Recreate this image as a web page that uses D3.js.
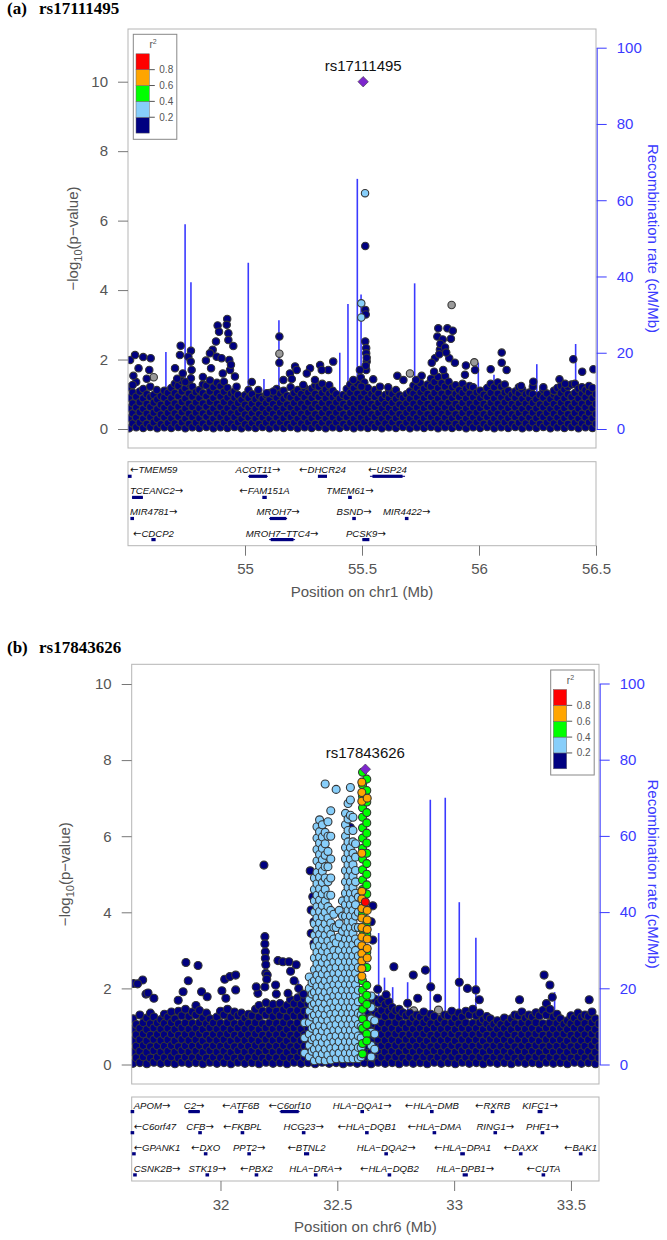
<!DOCTYPE html>
<html>
<head>
<meta charset="utf-8">
<script src="https://cdn.jsdelivr.net/npm/d3@7"></script>
<style>
  body { margin: 0; background: #fff; }
  svg { display: block; font-family: "Liberation Sans", Arial, sans-serif; }
</style>
</head>
<body>
<svg id="chart" width="667" height="1240"></svg>
<script>
// LD colour key (r^2 bins)
const r2Breaks = [0.2, 0.4, 0.6, 0.8];
const r2Labels = ["0.2", "0.4", "0.6", "0.8"];
const r2Colors = ["#000080", "#87CEFA", "#00FF00", "#FFA500", "#FF0000"];
const yTicksLeft = [0, 2, 4, 6, 8, 10];
const yTicksRight = [0, 20, 40, 60, 80, 100];

// ---------- panel (a) ----------
const leadA = { name: "rs17111495", pos: 55.505, logp: 10.0 };
const xDomainA = [54.5, 56.5];
const xTicksA = [55, 55.5, 56, 56.5];

// dense background of low-LD SNPs, one column per position: [pos, [-log10 p ...]]
const baseA = [
  [54.505,[0.02,0.31,0.6,0.9,1.2]], [54.52,[0.16,0.45,0.74,1.05]], [54.535,[0.05,0.33,0.62,0.93,1.35]],
  [54.55,[0.18,0.48,0.77,1.08]], [54.565,[0.03,0.3,0.58,0.88,1.15]], [54.58,[0.15,0.44,0.72,1.0]],
  [54.595,[0.06,0.34,0.63,0.92,1.22]], [54.61,[0.19,0.47,0.76,0.98]], [54.625,[0.02,0.29,0.57,0.85]],
  [54.64,[0.14,0.42,0.7,0.95]], [54.655,[0.05,0.33,0.61,0.9,1.1]], [54.67,[0.17,0.46,0.75,1.04]],
  [54.685,[0.03,0.31,0.6,0.89,1.18]], [54.7,[0.16,0.45,0.74,1.03,1.3]], [54.715,[0.06,0.35,0.64,0.94,1.24]],
  [54.73,[0.19,0.48,0.78,1.08,1.38]], [54.745,[0.02,0.3,0.59,0.88,1.17]], [54.76,[0.15,0.44,0.73,1.02,1.3]],
  [54.775,[0.05,0.34,0.63,0.93,1.22]], [54.79,[0.18,0.47,0.76,1.06]], [54.805,[0.03,0.31,0.6,0.89,1.12]],
  [54.82,[0.16,0.45,0.74,1.03,1.28]], [54.835,[0.06,0.35,0.64,0.94,1.25]], [54.85,[0.19,0.48,0.78,1.08,1.4]],
  [54.865,[0.02,0.3,0.59,0.89,1.2]], [54.88,[0.15,0.44,0.73,1.03,1.33]], [54.895,[0.05,0.34,0.63,0.93,1.23]],
  [54.91,[0.18,0.47,0.77,1.07,1.36]], [54.925,[0.03,0.31,0.6,0.9,1.18]], [54.94,[0.16,0.45,0.74,1.02]],
  [54.955,[0.06,0.34,0.62,0.9,1.08]], [54.97,[0.19,0.47,0.75,0.98]], [54.985,[0.02,0.29,0.57,0.84]],
  [55.0,[0.14,0.42,0.7,0.97]], [55.015,[0.05,0.33,0.61,0.89,1.12]], [55.03,[0.17,0.45,0.73,1.0]],
  [55.045,[0.03,0.3,0.58,0.86]], [55.06,[0.15,0.43,0.71,0.95]], [55.075,[0.06,0.33,0.6,0.87]],
  [55.09,[0.18,0.46,0.74,0.98]], [55.105,[0.02,0.3,0.58,0.86,1.04]], [55.12,[0.16,0.44,0.72,0.99]],
  [55.135,[0.05,0.33,0.61,0.9,1.15]], [55.15,[0.19,0.47,0.75,1.02]], [55.165,[0.03,0.31,0.59,0.87,1.1]],
  [55.18,[0.15,0.43,0.71,0.96]], [55.195,[0.06,0.34,0.62,0.91,1.2]], [55.21,[0.18,0.46,0.75,1.04]],
  [55.225,[0.02,0.3,0.59,0.88,1.12]], [55.24,[0.16,0.44,0.73,1.01]], [55.255,[0.05,0.33,0.62,0.91,1.18]],
  [55.27,[0.19,0.47,0.76,1.05]], [55.285,[0.03,0.31,0.6,0.89,1.16]], [55.3,[0.15,0.43,0.72,1.01,1.25]],
  [55.315,[0.06,0.34,0.63,0.92,1.22]], [55.33,[0.18,0.46,0.75,1.04,1.3]], [55.345,[0.02,0.3,0.59,0.88,1.14]],
  [55.36,[0.16,0.44,0.73,1.02,1.26]], [55.375,[0.05,0.33,0.62,0.91,1.1]], [55.39,[0.19,0.47,0.76,1.0]],
  [55.405,[0.03,0.31,0.6,0.88]], [55.42,[0.15,0.43,0.72,0.98]], [55.435,[0.06,0.34,0.63,0.92,1.15]],
  [55.45,[0.18,0.46,0.75,1.04,1.28]], [55.465,[0.02,0.3,0.59,0.88,1.17]], [55.48,[0.16,0.44,0.73,1.02,1.3]],
  [55.495,[0.05,0.33,0.62,0.91,1.2,1.48]], [55.51,[0.19,0.47,0.76,1.05,1.34]], [55.525,[0.03,0.31,0.6,0.89,1.18]],
  [55.54,[0.15,0.43,0.72,1.01]], [55.555,[0.06,0.34,0.63,0.92,1.12]], [55.57,[0.18,0.46,0.75,1.02]],
  [55.585,[0.02,0.3,0.59,0.87]], [55.6,[0.16,0.44,0.72,0.98]], [55.615,[0.05,0.33,0.61,0.89,1.06]],
  [55.63,[0.19,0.47,0.75,1.0]], [55.645,[0.03,0.31,0.59,0.87,1.12]], [55.66,[0.15,0.43,0.71,0.97]],
  [55.675,[0.06,0.34,0.62,0.9]], [55.69,[0.18,0.46,0.74,1.0]], [55.705,[0.02,0.3,0.58,0.87,1.08]],
  [55.72,[0.16,0.44,0.73,1.02,1.25]], [55.735,[0.05,0.33,0.62,0.91,1.18]], [55.75,[0.19,0.47,0.76,1.05,1.32]],
  [55.765,[0.03,0.31,0.6,0.89,1.16]], [55.78,[0.15,0.43,0.72,1.01,1.28]], [55.795,[0.06,0.34,0.63,0.92,1.22,1.45]],
  [55.81,[0.18,0.46,0.75,1.04,1.35]], [55.825,[0.02,0.3,0.59,0.88,1.18,1.5]], [55.84,[0.16,0.44,0.73,1.02,1.32]],
  [55.855,[0.05,0.33,0.62,0.91,1.22,1.52]], [55.87,[0.19,0.47,0.76,1.05,1.36]], [55.885,[0.03,0.31,0.6,0.89,1.2]],
  [55.9,[0.15,0.43,0.72,1.01,1.26]], [55.915,[0.06,0.34,0.63,0.92,1.12]], [55.93,[0.18,0.46,0.75,1.04,1.3]],
  [55.945,[0.02,0.3,0.59,0.88,1.16]], [55.96,[0.16,0.44,0.73,1.02,1.24]], [55.975,[0.05,0.33,0.62,0.91,1.2]],
  [55.99,[0.19,0.47,0.76,1.05]], [56.005,[0.03,0.31,0.6,0.89,1.1]], [56.02,[0.15,0.43,0.72,0.99]],
  [56.035,[0.06,0.34,0.63,0.92,1.18]], [56.05,[0.18,0.46,0.75,1.04,1.3]], [56.065,[0.02,0.3,0.59,0.88,1.2]],
  [56.08,[0.16,0.44,0.73,1.02,1.34]], [56.095,[0.05,0.33,0.62,0.91,1.22]], [56.11,[0.19,0.47,0.76,1.05,1.28]],
  [56.125,[0.03,0.31,0.6,0.89,1.1]], [56.14,[0.15,0.43,0.72,0.99]], [56.155,[0.06,0.34,0.62,0.9,1.08]],
  [56.17,[0.18,0.46,0.74,1.02,1.2]], [56.185,[0.02,0.3,0.58,0.87,1.14]], [56.2,[0.16,0.44,0.73,1.0]],
  [56.215,[0.05,0.33,0.61,0.88,1.05]], [56.23,[0.19,0.47,0.75,1.0,1.22]], [56.245,[0.03,0.31,0.59,0.86]],
  [56.26,[0.15,0.43,0.71,0.98]], [56.275,[0.06,0.34,0.62,0.9,1.12]], [56.29,[0.18,0.46,0.74,1.02]],
  [56.305,[0.02,0.3,0.58,0.86]], [56.32,[0.16,0.44,0.72,0.99,1.1]], [56.335,[0.05,0.33,0.61,0.89,1.18]],
  [56.35,[0.19,0.47,0.75,1.03,1.24]], [56.365,[0.03,0.31,0.6,0.88,1.14]], [56.38,[0.15,0.43,0.72,1.0,1.22]],
  [56.395,[0.06,0.34,0.63,0.92,1.28]], [56.41,[0.18,0.46,0.75,1.04,1.3]], [56.425,[0.02,0.3,0.59,0.88,1.16]],
  [56.44,[0.16,0.44,0.73,1.02,1.2]], [56.455,[0.05,0.33,0.62,0.91,1.12]], [56.47,[0.19,0.47,0.76,1.05,1.24]],
  [56.485,[0.03,0.31,0.6,0.89,1.18]], [56.5,[0.15,0.43,0.72,1.0]]
];

// individual SNPs: [pos, -log10 p, r2] (r2 null = no LD information)
const snpsA = [
  [55.513,6.79,0.3], [55.514,5.27,0.1], [55.497,3.62,0.3], [55.497,3.21,0.3], [55.514,3.43,0.1],
  [55.516,3.3,0.1], [55.514,2.52,0.1], [55.518,2.33,0.1], [55.518,2.18,0.1], [55.52,1.94,0.1],
  [55.518,1.7,0.1], [55.497,1.22,0.1], [55.52,2.05,0.1], [55.516,1.82,0.1],
  [54.509,1.99,0.1], [54.53,2.13,0.1], [54.565,2.07,0.1], [54.597,2.04,0.1], [54.523,1.53,0.1],
  [54.591,1.7,0.1], [54.623,1.12,0.1], [54.52,1.27,0.1], [54.545,1.75,0.1], [54.58,1.45,0.1],
  [54.725,2.4,0.1], [54.722,2.13,0.1], [54.769,2.25,0.1], [54.758,2.08,0.1], [54.701,1.75,0.1],
  [54.734,1.6,0.1], [54.768,1.94,0.1], [54.772,1.7,0.1], [54.769,1.46,0.1], [54.71,1.45,0.1],
  [54.745,1.35,0.1],
  [54.924,3.17,0.1], [54.922,3.0,0.1], [54.883,2.98,0.1], [54.889,2.8,0.1], [54.929,2.76,0.1],
  [54.876,2.52,0.1], [54.929,2.56,0.1], [54.95,2.39,0.1], [54.862,2.28,0.1], [54.85,2.18,0.1],
  [54.833,1.97,0.1], [54.879,2.08,0.1], [54.9,2.04,0.1], [54.933,1.99,0.1], [54.936,1.7,0.1],
  [54.957,1.51,0.1], [54.964,1.22,0.1], [54.855,1.75,0.1], [54.905,1.6,0.1], [54.82,1.5,0.1],
  [54.94,1.85,0.1],
  [55.029,1.35,0.1], [55.057,1.12,0.1], [55.121,1.08,0.1], [55.214,1.8,0.1], [55.192,1.6,0.1],
  [55.278,1.75,0.1], [55.321,1.84,0.1], [55.377,1.94,0.1], [55.356,1.7,0.1], [55.299,1.41,0.1],
  [55.249,1.27,0.1], [55.164,1.41,0.1], [55.093,1.03,0.1], [55.463,1.41,0.1], [55.491,1.7,0.1],
  [55.264,1.6,0.1], [55.328,1.7,0.1], [55.221,1.7,0.1], [55.2,1.44,0.1],
  [55.147,2.66,0.1], [55.147,1.91,0.1],
  [55.826,2.9,0.1], [55.865,2.9,0.1], [55.888,2.83,0.1], [55.822,2.66,0.1], [55.845,2.58,0.1],
  [55.833,2.28,0.1], [55.812,2.04,0.1], [55.873,2.04,0.1], [55.897,1.91,0.1], [55.798,1.91,0.1],
  [55.808,1.65,0.1], [55.847,1.7,0.1], [55.944,1.83,0.1], [55.983,1.7,0.1], [55.94,1.56,0.1],
  [55.835,2.45,0.1], [55.855,2.35,0.1], [55.83,2.15,0.1], [55.86,2.2,0.1], [55.88,2.6,0.1],
  [56.097,2.2,0.1], [56.097,1.91,0.1], [56.118,1.7,0.1], [56.05,1.72,0.1], [56.403,2.01,0.1],
  [56.441,1.65,0.1], [56.489,1.72,0.1], [56.344,1.43,0.1], [56.368,1.3,0.1], [56.18,1.24,0.1],
  [56.232,1.36,0.1], [56.275,1.2,0.1], [55.755,1.53,0.1], [55.731,1.41,0.1], [55.651,1.53,0.1],
  [55.677,1.41,0.1], [55.548,1.43,0.1], [55.577,1.22,0.1], [55.612,1.2,0.1],
  [55.147,2.17,null], [55.883,3.57,null], [55.705,1.6,null], [55.98,1.92,null], [56.21,0.93,null],
  [54.61,1.49,null]
];

// recombination rate peaks: [pos, cM/Mb]
const recombA = [
  [54.662,20.2], [54.744,53.7], [54.769,38.5], [55.014,43.6], [55.081,13.1], [55.145,28.5],
  [55.405,20.0], [55.44,32.8], [55.48,65.6], [55.496,35.3], [55.725,38.2], [55.997,17.4],
  [56.064,14.2], [56.247,17.0], [56.413,22.3]
];

// genes: [name, start, end, strand, row]
const genesA = [
  ["TMEM59",54.503,54.512,"-",0], ["ACOT11",55.013,55.098,"+",0], ["DHCR24",55.312,55.35,"-",0],
  ["USP24",55.534,55.684,"-",0], ["TCEANC2",54.517,54.564,"+",1], ["FAM151A",55.077,55.09,"-",1],
  ["TMEM61",55.444,55.453,"+",1], ["MIR4781",54.517,54.519,"+",2], ["MROH7",55.103,55.18,"+",2],
  ["BSND",55.462,55.47,"+",2], ["MIR4422",55.69,55.692,"+",2], ["CDCP2",54.603,54.615,"-",3],
  ["MROH7−TTC4",55.103,55.214,"+",3], ["PCSK9",55.503,55.53,"+",3]
];

// ---------- panel (b) ----------
const leadB = { name: "rs17843626", pos: 32.62, logp: 7.76 };
const xDomainB = [31.62, 33.62];
const xTicksB = [32, 32.5, 33, 33.5];

const baseB = [
  [31.625,[0.03,0.33,0.63,0.93,1.2]], [31.64,[0.18,0.48,0.78,1.05]], [31.655,[0.05,0.35,0.65,0.95,1.3]],
  [31.67,[0.2,0.5,0.8,1.1]], [31.685,[0.02,0.32,0.62,0.92,1.22]], [31.7,[0.17,0.47,0.77,1.07,1.35]],
  [31.715,[0.06,0.36,0.66,0.96,1.25]], [31.73,[0.19,0.49,0.79,1.09]], [31.745,[0.03,0.33,0.63,0.93,1.18]],
  [31.76,[0.18,0.48,0.78,1.08,1.32]], [31.775,[0.05,0.35,0.65,0.95,1.24]], [31.79,[0.2,0.5,0.8,1.1,1.38]],
  [31.805,[0.02,0.32,0.62,0.92,1.2]], [31.82,[0.17,0.47,0.77,1.07,1.4]], [31.835,[0.06,0.36,0.66,0.96,1.28]],
  [31.85,[0.19,0.49,0.79,1.09,1.45]], [31.865,[0.03,0.33,0.63,0.93,1.26]], [31.88,[0.18,0.48,0.78,1.08,1.38]],
  [31.895,[0.05,0.35,0.65,0.95,1.3,1.55]], [31.91,[0.2,0.5,0.8,1.1,1.42]], [31.925,[0.02,0.32,0.62,0.92,1.22]],
  [31.94,[0.17,0.47,0.77,1.07,1.35]], [31.955,[0.06,0.36,0.66,0.96,1.2]], [31.97,[0.19,0.49,0.79,1.09]],
  [31.985,[0.03,0.33,0.63,0.93,1.25]], [32.0,[0.18,0.48,0.78,1.08,1.4]], [32.015,[0.05,0.35,0.65,0.95,1.3]],
  [32.03,[0.2,0.5,0.8,1.1,1.45]], [32.045,[0.02,0.32,0.62,0.92,1.24]], [32.06,[0.17,0.47,0.77,1.07,1.38]],
  [32.075,[0.06,0.36,0.66,0.96,1.28]], [32.09,[0.19,0.49,0.79,1.09,1.35]], [32.105,[0.03,0.33,0.63,0.93,1.22]],
  [32.12,[0.18,0.48,0.78,1.08,1.32]], [32.135,[0.05,0.35,0.65,0.95,1.28]], [32.15,[0.2,0.5,0.8,1.1,1.45]],
  [32.165,[0.02,0.32,0.62,0.92,1.25,1.55]], [32.18,[0.17,0.47,0.77,1.07,1.4]], [32.195,[0.06,0.36,0.66,0.96,1.3,1.62]],
  [32.21,[0.19,0.49,0.79,1.09,1.42]], [32.225,[0.03,0.33,0.63,0.93,1.26,1.58]], [32.24,[0.18,0.48,0.78,1.08,1.4]],
  [32.255,[0.05,0.35,0.65,0.95,1.28,1.6]], [32.27,[0.2,0.5,0.8,1.1,1.44]], [32.285,[0.02,0.32,0.62,0.92,1.24,1.55]],
  [32.3,[0.17,0.47,0.77,1.07,1.4,1.7]], [32.315,[0.06,0.36,0.66,0.96,1.28,1.6]], [32.33,[0.19,0.49,0.79,1.09,1.42,1.75]],
  [32.345,[0.03,0.33,0.63,0.93,1.26,1.58]], [32.36,[0.18,0.48,0.78,1.08,1.4,1.72]], [32.375,[0.05,0.35,0.65,0.95,1.28,1.6]],
  [32.39,[0.2,0.5,0.8,1.1,1.45]], [32.405,[0.02,0.32,0.62,0.92,1.25]], [32.42,[0.17,0.47,0.77,1.07]],
  [32.435,[0.06,0.36,0.66,0.96,1.3]], [32.45,[0.19,0.49,0.79,1.09]], [32.465,[0.03,0.33,0.63,0.93,1.25]],
  [32.48,[0.18,0.48,0.78,1.08]], [32.495,[0.05,0.35,0.65,0.95,1.3]], [32.51,[0.2,0.5,0.8,1.1]],
  [32.525,[0.02,0.32,0.62,0.92,1.25]], [32.54,[0.17,0.47,0.77,1.07]], [32.555,[0.06,0.36,0.66,0.96,1.3]],
  [32.57,[0.19,0.49,0.79,1.09]], [32.585,[0.03,0.33,0.63,0.93,1.25]], [32.6,[0.18,0.48,0.78,1.08]],
  [32.615,[0.05,0.35,0.65,0.95,1.3]], [32.63,[0.2,0.5,0.8,1.1,1.4]], [32.645,[0.02,0.32,0.62,0.92,1.25,1.6]],
  [32.66,[0.17,0.47,0.77,1.07,1.4,1.72]], [32.675,[0.06,0.36,0.66,0.96,1.3,1.62]], [32.69,[0.19,0.49,0.79,1.09,1.42,1.7]],
  [32.705,[0.03,0.33,0.63,0.93,1.26,1.58]], [32.72,[0.18,0.48,0.78,1.08,1.4,1.65]], [32.735,[0.05,0.35,0.65,0.95,1.28,1.5]],
  [32.75,[0.2,0.5,0.8,1.1,1.42]], [32.765,[0.02,0.32,0.62,0.92,1.24,1.45]], [32.78,[0.17,0.47,0.77,1.07,1.36]],
  [32.795,[0.06,0.36,0.66,0.96,1.28]], [32.81,[0.19,0.49,0.79,1.09,1.35]], [32.825,[0.03,0.33,0.63,0.93,1.22]],
  [32.84,[0.18,0.48,0.78,1.08,1.3]], [32.855,[0.05,0.35,0.65,0.95,1.25]], [32.87,[0.2,0.5,0.8,1.1,1.38]],
  [32.885,[0.02,0.32,0.62,0.92,1.2]], [32.9,[0.17,0.47,0.77,1.07,1.32]], [32.915,[0.06,0.36,0.66,0.96,1.26]],
  [32.93,[0.19,0.49,0.79,1.09]], [32.945,[0.03,0.33,0.63,0.93,1.2]], [32.96,[0.18,0.48,0.78,1.08,1.3]],
  [32.975,[0.05,0.35,0.65,0.95,1.28]], [32.99,[0.2,0.5,0.8,1.1,1.4]], [33.005,[0.02,0.32,0.62,0.92,1.22]],
  [33.02,[0.17,0.47,0.77,1.07,1.35]], [33.035,[0.06,0.36,0.66,0.96,1.25]], [33.05,[0.19,0.49,0.79,1.09,1.4]],
  [33.065,[0.03,0.33,0.63,0.93,1.3]], [33.08,[0.18,0.48,0.78,1.08,1.45]], [33.095,[0.05,0.35,0.65,0.95,1.28]],
  [33.11,[0.2,0.5,0.8,1.1,1.35]], [33.125,[0.02,0.32,0.62,0.92,1.18]], [33.14,[0.17,0.47,0.77,1.07,1.26]],
  [33.155,[0.06,0.36,0.66,0.96,1.2]], [33.17,[0.19,0.49,0.79,1.06]], [33.185,[0.03,0.33,0.63,0.93,1.15]],
  [33.2,[0.18,0.48,0.78,1.05]], [33.215,[0.05,0.35,0.65,0.95,1.22]], [33.23,[0.2,0.5,0.8,1.08]],
  [33.245,[0.02,0.32,0.62,0.92,1.2]], [33.26,[0.17,0.47,0.77,1.07,1.3]], [33.275,[0.06,0.36,0.66,0.96,1.28]],
  [33.29,[0.19,0.49,0.79,1.09,1.38]], [33.305,[0.03,0.33,0.63,0.93,1.22]], [33.32,[0.18,0.48,0.78,1.08,1.3]],
  [33.335,[0.05,0.35,0.65,0.95,1.25]], [33.35,[0.2,0.5,0.8,1.1,1.36]], [33.365,[0.02,0.32,0.62,0.92,1.28]],
  [33.38,[0.17,0.47,0.77,1.07,1.42]], [33.395,[0.06,0.36,0.66,0.96,1.3,1.6]], [33.41,[0.19,0.49,0.79,1.09,1.45]],
  [33.425,[0.03,0.33,0.63,0.93,1.25]], [33.44,[0.18,0.48,0.78,1.08,1.32]], [33.455,[0.05,0.35,0.65,0.95,1.2]],
  [33.47,[0.2,0.5,0.8,1.06]], [33.485,[0.02,0.32,0.62,0.92,1.15]], [33.5,[0.17,0.47,0.77,1.07,1.28]],
  [33.515,[0.06,0.36,0.66,0.96,1.22]], [33.53,[0.19,0.49,0.79,1.09,1.35]], [33.545,[0.03,0.33,0.63,0.93,1.24]],
  [33.56,[0.18,0.48,0.78,1.08,1.3]], [33.575,[0.05,0.35,0.65,0.95,1.26]], [33.59,[0.2,0.5,0.8,1.1,1.38]],
  [33.605,[0.02,0.32,0.62,0.92,1.2]], [33.62,[0.17,0.47,0.77,1.07]]
];

// light-blue towers (0.2 < r2 < 0.4)
const lightB = [
  [32.36,[0.3,0.7,1.1]],
  [32.38,[0.2,0.5,0.8,1.1,1.4,1.7,2.0,2.3]],
  [32.392,[0.35,0.65,0.95,1.25,1.55,1.85,2.15]],
  [32.402,[0.1,0.4,0.7,1.0,1.3,1.6,1.9,2.2,2.5,2.8,3.1,3.4,3.7,4.0,4.3,4.6,4.9]],
  [32.413,[0.25,0.55,0.85,1.15,1.45,1.75,2.05,2.35,2.65,2.95,3.25,3.55,3.85,4.15,4.45,4.75,5.05,5.35,5.65,5.95,6.25]],
  [32.424,[0.12,0.42,0.72,1.02,1.32,1.62,1.92,2.22,2.52,2.82,3.12,3.42,3.72,4.02,4.32,4.62,4.92,5.22,5.52,5.82,6.12,6.43]],
  [32.436,[0.28,0.58,0.88,1.18,1.48,1.78,2.08,2.38,2.68,2.98,3.28,3.58,3.88,4.18,4.48,4.78,5.08,5.38,5.68,5.98,6.3]],
  [32.448,[0.1,0.4,0.7,1.0,1.3,1.6,1.9,2.2,2.5,2.8,3.1,3.4,3.7,4.0,4.3,4.6,4.9,5.2,5.5,5.8,6.1,7.37]],
  [32.46,[0.25,0.55,0.85,1.15,1.45,1.75,2.05,2.35,2.65,2.95,3.25,3.55,3.85,4.15,4.45,4.8,5.2,5.6,6.0,6.38]],
  [32.472,[0.12,0.42,0.72,1.02,1.32,1.62,1.92,2.22,2.52,2.82,3.12,3.42,3.72,4.05,4.45,4.9,5.4,6.0,6.67]],
  [32.485,[0.3,0.6,0.9,1.2,1.5,1.8,2.1,2.4,2.7,3.0,3.3,3.6,3.95]],
  [32.495,[0.15,0.45,0.75,1.05,1.35,1.65,1.95,2.25,2.55,2.85,3.2,3.6,7.23]],
  [32.508,[0.3,0.6,0.9,1.2,1.5,1.8,2.1,2.4,2.7,3.0,3.35,3.7,4.05]],
  [32.522,[0.15,0.45,0.75,1.05,1.35,1.65,1.95,2.25,2.55,2.85,3.15,3.5,3.9,4.3]],
  [32.535,[0.3,0.6,0.9,1.2,1.5,1.8,2.1,2.4,2.7,3.0,3.3,3.6,3.9,4.2,4.5,4.8,5.1,5.4,5.7,6.0,6.3,6.6]],
  [32.546,[0.15,0.45,0.75,1.05,1.35,1.65,1.95,2.25,2.55,2.85,3.15,3.45,3.75,4.05,4.35,4.65,4.95,5.25,5.55,5.85,6.15,6.45,6.86]],
  [32.556,[0.3,0.6,0.9,1.2,1.5,1.8,2.1,2.4,2.7,3.0,3.3,3.6,3.9,4.2,4.5,4.8,5.1,5.4,5.7,6.55,6.95,7.28]],
  [32.567,[0.15,0.45,0.75,1.05,1.35,1.65,1.95,2.25,2.55,2.85,3.15,3.45,3.75,4.05,4.35,4.65,4.95,5.25,5.55,5.85,6.15,6.5]],
  [32.578,[0.3,0.6,0.9,1.2,1.5,1.8,2.1,2.4,2.7,3.0,3.3,3.6,3.9,4.2,4.5,4.8,5.1,5.45,5.8]],
  [32.59,[0.15,0.45,0.75,1.05,1.35,1.65,1.95,2.25,2.55,2.85,3.2,3.6,4.0,4.4]],
  [32.602,[0.2,0.45,0.7,1.0,1.3]],
  [32.645,[0.2,0.5,0.85,1.2,1.5,1.8]],
  [32.66,[0.4,0.8,1.15]]
];
// green (0.4-0.6) and orange (0.6-0.8) columns next to the lead SNP
const greenB = [
  [32.608,[7.68,7.35,7.05,6.75,6.5,6.22,5.95,5.68,5.4,5.12,4.85,4.6,4.35,3.95,3.55,3.1,2.75,2.2,1.95,1.7,1.45,1.2,0.95,0.55,0.28]],
  [32.626,[7.5,7.2,6.9,6.62,6.35,6.08,5.82,5.55,5.28,5.0,4.72,4.48,3.72,3.42,2.95,2.55,2.08,1.82,1.58,1.05,0.8,0.62]]
];
const orangeB = [
  [32.605,[7.42,7.15,6.92,5.55,4.55,4.35,4.1,3.85,3.6,3.35,3.12,2.92,2.72,2.52,2.32]],
  [32.628,[7.0,4.05,3.8,3.55,3.3,3.05,2.8]]
];

const snpsB = [
  [32.62,4.27,0.9],
  [32.556,6.23,0.1], [32.417,4.41,0.1], [32.45,4.1,0.1],
  [32.186,5.24,0.1], [32.19,3.36,0.1], [32.19,3.17,0.1], [32.192,2.96,0.1], [32.192,2.79,0.1],
  [32.194,2.62,0.1], [32.194,2.4,0.1], [32.2,2.35,0.1], [32.198,2.24,0.1],
  [31.852,2.68,0.1], [31.904,2.6,0.1], [31.862,2.2,0.1], [31.667,2.22,0.1], [31.627,2.13,0.1],
  [31.645,2.12,0.1], [31.681,1.85,0.1], [31.69,1.88,0.1], [31.715,1.74,0.1], [31.84,1.91,0.1],
  [31.919,1.91,0.1], [31.943,1.78,0.1], [31.819,1.69,0.1], [32.018,2.24,0.1], [32.04,2.31,0.1],
  [32.065,2.35,0.1], [32.023,1.74,0.1], [32.065,1.96,0.1], [32.006,1.94,0.1], [32.246,2.73,0.1],
  [32.267,2.7,0.1], [32.293,2.7,0.1], [32.324,2.62,0.1], [32.236,2.09,0.1], [32.239,1.85,0.1],
  [32.289,1.87,0.1], [32.16,1.87,0.1], [32.153,2.04,0.1], [32.19,2.04,0.1],
  [32.3,2.45,0.1], [32.315,2.2,0.1], [32.335,2.0,0.1], [32.355,1.85,0.1],
  [32.384,5.09,0.1], [32.395,4.41,0.1], [32.388,4.06,0.1], [32.4,3.75,0.1], [32.388,3.45,0.1],
  [32.4,3.18,0.1], [32.652,4.17,0.1], [32.645,3.75,0.1], [32.652,3.27,0.1], [32.742,2.57,0.1],
  [32.877,2.48,0.1], [32.825,2.35,0.1], [32.9,2.04,0.1], [33.022,2.16,0.1], [33.093,1.96,0.1],
  [33.057,2.0,0.1], [32.929,1.74,0.1], [32.844,1.74,0.1], [32.801,1.61,0.1], [32.709,1.83,0.1],
  [32.673,1.98,0.1], [33.108,1.7,0.1], [33.28,1.7,0.1], [33.385,2.35,0.1], [33.41,2.09,0.1],
  [33.42,1.77,0.1], [33.578,1.7,0.1],
  [32.827,1.41,null], [32.933,1.43,null], [33.41,0.6,null]
];

const recombB = [
  [32.334,22.0], [32.677,34.5], [32.702,22.8], [32.737,20.3], [32.801,21.6], [32.898,69.5],
  [32.962,70.0], [33.022,42.6], [33.093,33.3], [33.43,19.0]
];

const genesB = [
  ["APOM",31.622,31.624,"+",0], ["C2",31.862,31.912,"+",0], ["ATF6B",32.079,32.094,"-",0],
  ["C6orf10",32.253,32.339,"-",0], ["HLA−DQA1",32.604,32.609,"+",0], ["HLA−DMB",32.902,32.907,"-",0],
  ["RXRB",33.162,33.167,"-",0], ["KIFC1",33.36,33.375,"+",0],
  ["C6orf47",31.622,31.624,"-",1], ["CFB",31.91,31.915,"+",1], ["FKBPL",32.092,32.096,"-",1],
  ["HCG23",32.354,32.358,"+",1], ["HLA−DQB1",32.624,32.629,"-",1], ["HLA−DMA",32.913,32.918,"-",1],
  ["RING1",33.174,33.178,"+",1], ["PHF1",33.376,33.38,"+",1],
  ["GPANK1",31.628,31.631,"-",2], ["DXO",31.935,31.938,"-",2], ["PPT2",32.12,32.125,"+",2],
  ["BTNL2",32.36,32.377,"-",2], ["HLA−DQA2",32.707,32.711,"+",2], ["HLA−DPA1",33.029,33.043,"-",2],
  ["DAXX",33.283,33.287,"-",2], ["BAK1",33.539,33.544,"-",2],
  ["CSNK2B",31.632,31.636,"+",3], ["STK19",31.941,31.946,"+",3], ["PBX2",32.152,32.156,"-",3],
  ["HLA−DRA",32.405,32.41,"+",3], ["HLA−DQB2",32.721,32.725,"-",3], ["HLA−DPB1",33.039,33.056,"+",3],
  ["CUTA",33.38,33.384,"-",3]
];

// ---------- drawing ----------
const svg = d3.select("#chart");
const r2Color = d3.scaleThreshold().domain(r2Breaks).range(r2Colors);
const axisGrey = "#555";
const recombBlue = "#3a3aff";

const panels = [
  { id: "a", tag: "(a)", lead: leadA, chr: "chr1", xDomain: xDomainA, xTicks: xTicksA,
    base: baseA, extra: [], snps: snpsA, recomb: recombA, genes: genesA,
    x0: 128, x1: 596, top: 29, bottom: 448, y0: 429, y10: 81.7, r100: 47.7,
    geneTop: 461.7, geneBottom: 545.7, titleY: 13.5, legendX: 133.3, legendY: 34.3,
    radius: 3.7, yTitleX: 78 },
  { id: "b", tag: "(b)", lead: leadB, chr: "chr6", xDomain: xDomainB, xTicks: xTicksB,
    base: baseB, extra: [[lightB, 0.3], [greenB, 0.5], [orangeB, 0.7]], snps: snpsB, recomb: recombB, genes: genesB,
    x0: 131.7, x1: 599, top: 664.3, bottom: 1084, y0: 1064.5, y10: 684, r100: 683.5,
    geneTop: 1097, geneBottom: 1181, titleY: 653, legendX: 550.7, legendY: 670,
    radius: 4, yTitleX: 70 }
];

panels.forEach(drawPanel);

function drawPanel(p) {
  const g = svg.append("g");
  const x = d3.scaleLinear().domain(p.xDomain).range([p.x0, p.x1]);
  const y = d3.scaleLinear().domain([0, 10]).range([p.y0, p.y10]);
  const yR = d3.scaleLinear().domain([0, 100]).range([p.y0, p.r100]);

  // panel title
  const title = g.append("text").attr("y", p.titleY)
    .style("font-family", '"Liberation Serif", "Times New Roman", serif')
    .style("font-weight", "bold").style("font-size", "17px");
  title.append("tspan").attr("x", 7).text(p.tag);
  title.append("tspan").attr("x", 39).text(p.lead.name);

  const clipId = "clip-" + p.id;
  g.append("clipPath").attr("id", clipId).append("rect")
    .attr("x", p.x0).attr("y", p.top).attr("width", p.x1 - p.x0).attr("height", p.bottom - p.top);
  const plot = g.append("g").attr("clip-path", `url(#${clipId})`);

  // recombination rate
  plot.selectAll("line.recomb").data(p.recomb).join("line")
    .attr("class", "recomb")
    .attr("x1", d => x(d[0])).attr("x2", d => x(d[0]))
    .attr("y1", yR(0)).attr("y2", d => yR(d[1]))
    .attr("stroke", recombBlue).attr("stroke-width", 1.6);

  // SNPs
  const pts = [];
  p.base.forEach(([pos, vals]) => vals.forEach(v => pts.push({ pos, logp: v, r2: 0.1 })));
  p.snps.forEach(([pos, v, r2]) => pts.push({ pos, logp: v, r2 }));
  p.extra.forEach(([cols, r2]) => cols.forEach(([pos, vals]) => vals.forEach(v => pts.push({ pos, logp: v, r2 }))));
  pts.sort((a, b) => (a.r2 === null ? -1 : a.r2) - (b.r2 === null ? -1 : b.r2));

  plot.selectAll("circle").data(pts).join("circle")
    .attr("cx", d => x(d.pos)).attr("cy", d => y(d.logp)).attr("r", p.radius)
    .attr("fill", d => d.r2 === null ? "#9a9a9a" : r2Color(d.r2))
    .attr("stroke", "#363636").attr("stroke-width", 1.1);

  // lead SNP
  const lx = x(p.lead.pos), ly = y(p.lead.logp);
  g.append("path").attr("d", d3.symbol(d3.symbolDiamond2, 70)())
    .attr("transform", `translate(${lx},${ly})`)
    .attr("fill", "#7D26CD").attr("stroke", "#3a3a3a").attr("stroke-width", 0.6);
  g.append("text").attr("x", lx).attr("y", ly - 11).attr("text-anchor", "middle")
    .style("font-size", "15px").attr("fill", "#111").text(p.lead.name);

  // frame
  g.append("rect").attr("x", p.x0).attr("y", p.top).attr("width", p.x1 - p.x0).attr("height", p.bottom - p.top)
    .attr("fill", "none").attr("stroke", "#b5b5b5");

  // left axis
  const la = g.append("g").attr("transform", `translate(${p.x0},0)`)
    .call(d3.axisLeft(y).tickValues(yTicksLeft).tickSize(10).tickPadding(10).tickSizeOuter(0));
  la.select(".domain").remove();
  la.selectAll("line").attr("stroke", "#777");
  la.selectAll("text").style("font-size", "15px").style("font-family", '"Liberation Sans", Arial, sans-serif').attr("fill", axisGrey);

  // right axis (recombination)
  const ra = g.append("g").attr("transform", `translate(${p.x1 + 0.7},0)`)
    .call(d3.axisRight(yR).tickValues(yTicksRight).tickSize(10).tickPadding(10).tickSizeOuter(0));
  ra.select(".domain").attr("stroke", recombBlue);
  ra.selectAll("line").attr("stroke", recombBlue);
  ra.selectAll("text").style("font-size", "15px").style("font-family", '"Liberation Sans", Arial, sans-serif').attr("fill", recombBlue);

  // axis titles
  const cy = (p.top + p.bottom) / 2;
  const yt = g.append("text").attr("transform", `translate(${p.yTitleX},${cy}) rotate(-90)`)
    .attr("text-anchor", "middle").style("font-size", "15px").attr("fill", axisGrey);
  yt.append("tspan").text("−log");
  yt.append("tspan").attr("dy", 4).style("font-size", "11px").text("10");
  yt.append("tspan").attr("dy", -4).text("(p−value)");
  g.append("text").attr("transform", `translate(648,${cy}) rotate(90)`)
    .attr("text-anchor", "middle").style("font-size", "15px").attr("fill", recombBlue)
    .text("Recombination rate (cM/Mb)");

  drawLegend(g, p.legendX, p.legendY);

  // gene track
  g.append("rect").attr("x", p.x0).attr("y", p.geneTop).attr("width", p.x1 - p.x0)
    .attr("height", p.geneBottom - p.geneTop).attr("fill", "none").attr("stroke", "#b5b5b5");
  const rowStep = 21.1;
  p.genes.forEach(([name, start, end, strand, row]) => {
    const xs = x(start), xe = x(end);
    const w = Math.max(xe - xs, 2);
    const by = p.geneTop + 13 + row * rowStep;
    g.append("line").attr("x1", xs).attr("x2", xe).attr("y1", by + 1.6).attr("y2", by + 1.6)
      .attr("stroke", "#000080").attr("stroke-width", 1);
    g.append("rect").attr("x", (xs + xe) / 2 - w * 0.4 - 1).attr("y", by)
      .attr("width", w * 0.8 + 2).attr("height", 3.2).attr("fill", "#000080");
    const t = g.append("text").attr("y", p.geneTop + 11.5 + row * rowStep)
      .attr("text-anchor", "middle").style("font-size", "9.6px").style("font-style", "italic")
      .attr("fill", "#111");
    const arrow = s => t.append("tspan").style("font-family", '"DejaVu Sans", sans-serif')
      .style("font-style", "normal").style("font-size", "10px").text(s);
    if (strand === "-") arrow("←");
    t.append("tspan").text(name);
    if (strand === "+") arrow("→");
    const tw = t.node().getComputedTextLength();
    let cx = (xs + xe) / 2;
    cx = Math.max(p.x0 + 2 + tw / 2, Math.min(p.x1 - 2 - tw / 2, cx));
    t.attr("x", cx);
  });

  // position axis
  const ba = g.append("g").attr("transform", `translate(0,${p.geneBottom})`)
    .call(d3.axisBottom(x).tickValues(p.xTicks).tickFormat(d3.format("")).tickSize(10).tickPadding(8).tickSizeOuter(0));
  ba.select(".domain").remove();
  ba.selectAll("line").attr("stroke", "#777");
  ba.selectAll("text").style("font-size", "15px").style("font-family", '"Liberation Sans", Arial, sans-serif').attr("fill", axisGrey);
  g.append("text").attr("x", (p.x0 + p.x1) / 2).attr("y", p.geneBottom + 51)
    .attr("text-anchor", "middle").style("font-size", "15px").attr("fill", axisGrey)
    .text(`Position on ${p.chr} (Mb)`);
}

function drawLegend(g, lx, ly) {
  const w = 43.5, h = 105;
  g.append("rect").attr("x", lx).attr("y", ly).attr("width", w).attr("height", h)
    .attr("fill", "#fff").attr("stroke", "#888");
  const rt = g.append("text").attr("x", lx + w / 2 - 2).attr("y", ly + 14)
    .attr("text-anchor", "middle").style("font-size", "10px").attr("fill", axisGrey);
  rt.append("tspan").text("r");
  rt.append("tspan").attr("dy", -4).style("font-size", "7px").text("2");

  const ls = d3.scaleLinear().domain([0, 1]).range([ly + 98.8, ly + 19.5]);
  const edges = [0].concat(r2Breaks, [1]);
  r2Colors.forEach((c, i) => {
    g.append("rect").attr("x", lx + 2.7).attr("y", ls(edges[i + 1]))
      .attr("width", 13.3).attr("height", ls(edges[i]) - ls(edges[i + 1]))
      .attr("fill", c).attr("stroke", "#666").attr("stroke-width", 0.5);
  });
  r2Breaks.forEach((b, i) => {
    g.append("line").attr("x1", lx + 16).attr("x2", lx + 21.5)
      .attr("y1", ls(b)).attr("y2", ls(b)).attr("stroke", "#555");
    g.append("text").attr("x", lx + 26).attr("y", ls(b)).attr("dy", "0.35em")
      .style("font-size", "10px").attr("fill", axisGrey).text(r2Labels[i]);
  });
}
</script>
</body>
</html>
